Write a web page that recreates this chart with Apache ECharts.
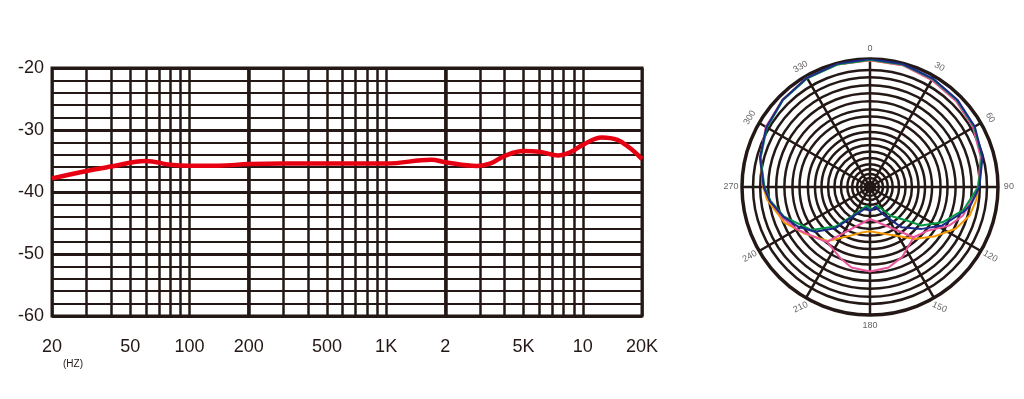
<!DOCTYPE html>
<html><head><meta charset="utf-8">
<script src="https://cdn.jsdelivr.net/npm/echarts@6/dist/echarts.min.js"></script>
<style>html,body{margin:0;padding:0;background:#fff}#c{width:1024px;height:399px}</style>
</head><body><div id="c"></div>
<script>
// ---- Frequency response data ----
const freqGrid = [20,30,40,50,60,70,80,90,100,200,300,400,500,600,700,800,900,1000,2000,3000,4000,5000,6000,7000,8000,9000,10000,20000];
const freqMajor = [200, 2000];
const freqTicks = [20,50,100,200,500,1000,2000,5000,10000,20000];
const freqTickLabels = ['20','50','100','200','500','1K','2','5K','10','20K'];
const responseFreq = [20,30,40,60,80,100,140,200,300,650,1000,1700,2000,2900,3400,4000,5000,6000,7500,8500,10000,12500,15000,17500,20000];
const responseDb = [-37.8,-36.6,-35.9,-35.0,-35.6,-35.75,-35.75,-35.5,-35.4,-35.4,-35.4,-34.8,-35.2,-35.8,-35.4,-34.2,-33.4,-33.5,-34.1,-33.7,-32.4,-31.2,-31.6,-33.0,-34.7];

// ---- Polar pattern data: [angle (deg, clockwise from front), relative radius] ----
const ringRadii = [0.038,0.07,0.101,0.139,0.177,0.227,0.278,0.328,0.379,0.43,0.485,0.551,0.606,0.669,0.733,0.795,0.858,0.914];
const angleLabels = [0,30,60,90,120,150,180,210,240,270,300,330];
const angleLabelTilt = [0,-30,-60,0,-30,-25,0,25,30,0,60,30];
const polarBlue = [[0,1.0],[15,0.995],[30,0.98],[45,0.965],[60,0.945],[75,0.91],[90,0.855],[100,0.8],[105,0.755],[118,0.64],[129,0.52],[142,0.4],[154,0.24],[165,0.16],[180,0.19],[190,0.165],[207,0.24],[220,0.42],[231,0.555],[241,0.64],[251,0.715],[262,0.79],[270,0.83],[285,0.89],[300,0.935],[315,0.965],[330,0.985],[345,0.997],[360,1.0]];
const polarGreen = [[0,0.995],[15,0.99],[30,0.975],[45,0.96],[60,0.94],[75,0.905],[90,0.845],[104,0.75],[116,0.63],[127,0.5],[133,0.38],[144,0.28],[159,0.155],[175,0.175],[190,0.15],[211,0.26],[221,0.41],[234,0.57],[251,0.71],[262,0.785],[270,0.825],[285,0.885],[300,0.93],[315,0.96],[330,0.98],[345,0.99],[360,0.995]];
const polarOrange = [[0,0.99],[15,0.985],[30,0.97],[45,0.955],[60,0.94],[75,0.9],[90,0.845],[97,0.836],[106,0.81],[116,0.744],[127,0.638],[139.5,0.535],[154,0.42],[167,0.37],[180,0.346],[190,0.36],[200,0.4],[218,0.535],[234.5,0.627],[247.7,0.726],[263,0.81],[270,0.835],[285,0.89],[300,0.935],[315,0.965],[330,0.985],[345,0.99],[360,0.99]];
const polarPink = [[0,0.99],[15,0.985],[30,0.965],[45,0.95],[60,0.93],[75,0.895],[90,0.845],[107,0.76],[116,0.688],[126.6,0.569],[139,0.52],[155,0.6],[167,0.645],[180,0.66],[193,0.645],[203,0.6],[218,0.545],[225,0.57],[240,0.66],[250,0.72],[262,0.79],[270,0.83],[285,0.885],[300,0.94],[315,0.965],[330,0.985],[345,0.99],[360,0.99]];
const polarPinkInner = [[139,0.52],[180,0.25],[218,0.545]];

const INK = '#231815';
const FONT = '"Liberation Sans", Arial, sans-serif';
function findLabel(v){
  for (let i=0;i<freqTicks.length;i++){ if (Math.abs(Math.log10(v)-Math.log10(freqTicks[i]))<1e-4) return freqTickLabels[i]; }
  return '';
}
function toPolar(arr){ return arr.map(p => [p[1], p[0]]); }

const chart = echarts.init(document.getElementById('c'), null, {renderer:'canvas'});
chart.setOption({
  animation:false,
  backgroundColor:'#fff',
  textStyle:{fontFamily:FONT},
  grid:{left:52, top:68, width:590, height:248, show:true, borderColor:INK, borderWidth:3, backgroundColor:'transparent'},
  xAxis:[{
    type:'log', logBase:10, min:20, max:20000, position:'bottom',
    axisLine:{show:false}, axisTick:{show:false, customValues:freqGrid},
    axisLabel:{customValues:freqTicks, formatter:findLabel, margin:22, fontSize:18, color:INK, fontFamily:FONT},
    splitLine:{show:true, lineStyle:{color:INK, width:2.5}}
  },{
    type:'log', logBase:10, min:20, max:20000, position:'bottom',
    axisLine:{show:false}, axisTick:{show:false, customValues:freqMajor},
    axisLabel:{show:false},
    splitLine:{show:true, lineStyle:{color:INK, width:3.5}}
  }],
  yAxis:[{
    type:'value', min:-60, max:-20, interval:2, position:'left',
    axisLine:{show:false}, axisTick:{show:false}, axisLabel:{show:false},
    splitLine:{show:true, lineStyle:{color:INK, width:2.2}}
  },{
    type:'value', min:-60, max:-20, interval:10, position:'left', offset:0,
    axisLine:{show:false}, axisTick:{show:false},
    axisLabel:{margin:8, fontSize:18, color:INK, fontFamily:FONT},
    splitLine:{show:true, lineStyle:{color:INK, width:3.2}}
  }],
  polar:{center:[870,187], radius:128},
  angleAxis:{
    type:'value', min:0, max:360, interval:30, startAngle:90, clockwise:true,
    axisLine:{show:true, lineStyle:{color:INK, width:3.5}},
    axisTick:{show:false}, axisLabel:{show:false},
    splitLine:{show:true, lineStyle:{color:INK, width:2.5}}
  },
  radiusAxis:{
    type:'value', min:0, max:1,
    axisLine:{show:false}, axisLabel:{show:false},
    axisTick:{show:false, customValues:ringRadii},
    splitLine:{show:true, lineStyle:{color:INK, width:2.5}}
  },
  graphic:[{type:'text', x:73, y:364, style:{text:'(HZ)', fontSize:10, fill:INK, fontFamily:FONT, align:'center', verticalAlign:'middle'}}],
  series:[
    {type:'line', xAxisIndex:0, yAxisIndex:0, data:responseFreq.map((f,i)=>[f,responseDb[i]]),
     smooth:0.4, symbol:'none', lineStyle:{color:'#e60012', width:4.5}, z:10},
    {type:'line', coordinateSystem:'polar', data:toPolar(polarOrange), symbol:'none', lineStyle:{color:'#f39800', width:2}, z:5},
    {type:'line', coordinateSystem:'polar', data:toPolar(polarPink), symbol:'none', lineStyle:{color:'#e8559b', width:2}, z:6},
    {type:'line', coordinateSystem:'polar', data:toPolar(polarPinkInner), symbol:'none', lineStyle:{color:'#e8559b', width:2}, z:6},
    {type:'line', coordinateSystem:'polar', data:toPolar(polarGreen), symbol:'none', lineStyle:{color:'#009944', width:2}, z:7},
    {type:'line', coordinateSystem:'polar', data:toPolar(polarBlue), symbol:'none', lineStyle:{color:'#1d2a8a', width:2}, z:8},
    {type:'scatter', coordinateSystem:'polar', data:[[0,0]], symbolSize:12, itemStyle:{color:INK}, silent:true, z:4},
    {type:'scatter', coordinateSystem:'polar', clip:false, symbolSize:0, silent:true,
     data:angleLabels.map((a,i)=>({value:[1.085,a], label:{rotate:angleLabelTilt[i]}})),
     label:{show:true, position:'inside', formatter:p=>String(p.value[1]), fontSize:9, color:'#3e3a39', fontFamily:FONT}}
  ]
});
</script></body></html>
